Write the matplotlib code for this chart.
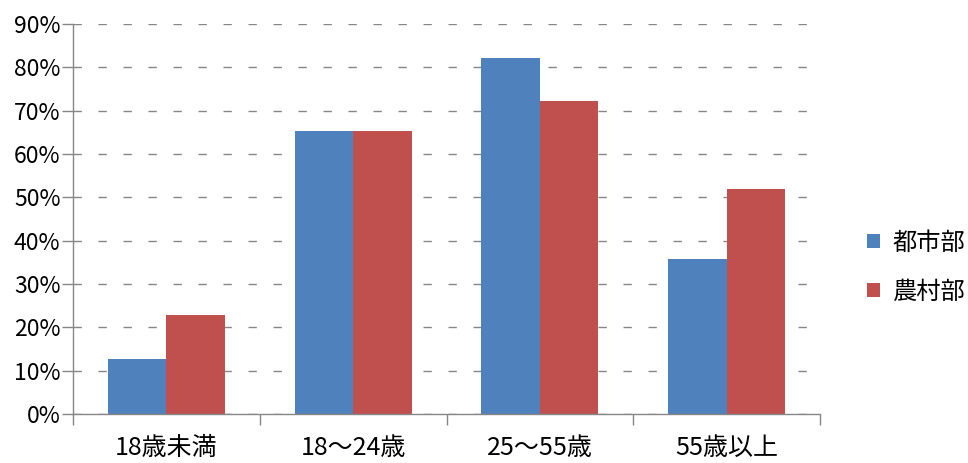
import numpy as np
import matplotlib.pyplot as plt
from matplotlib.ticker import FixedLocator, PercentFormatter

plt.rcParams['font.family'] = ['Noto Sans CJK JP', 'DejaVu Sans']

categories = ["18歳未満", "18～24歳", "25～55歳", "55歳以上"]
urban = [12.7, 65.2, 82.2, 35.8]
rural = [22.9, 65.2, 72.3, 52.0]
series_names = ["都市部", "農村部"]
colors = ["#4F81BD", "#C0504D"]

fig = plt.figure(figsize=(9.68, 4.63), dpi=100)
ax = fig.add_axes([73 / 968, 49 / 463, (820 - 73) / 968, (414 - 24) / 463])

x = np.arange(len(categories))
w = 0.313
ax.bar(x - w / 2, urban, w, color=colors[0], label=series_names[0], zorder=3)
ax.bar(x + w / 2, rural, w, color=colors[1], label=series_names[1], zorder=3)

ax.set_xlim(-0.5, len(categories) - 0.5)
ax.set_ylim(0, 90)
ax.set_yticks(np.arange(0, 91, 10))
ax.yaxis.set_major_formatter(PercentFormatter(decimals=0))
ax.set_xticks(x)
ax.set_xticklabels(categories)
ax.xaxis.set_minor_locator(FixedLocator(np.arange(-0.5, len(categories), 1)))
ax.tick_params(axis='x', which='major', length=0, pad=15, labelsize=18)
ax.tick_params(axis='x', which='minor', length=8, color='#868686', width=1)
ax.tick_params(axis='y', length=8, color='#868686', width=1, labelsize=16.5, pad=1)

ax.grid(axis='y', color='#868686', linestyle=(0, (6, 12)), linewidth=1, zorder=0)
for s in ['top', 'right']:
    ax.spines[s].set_visible(False)
for s in ['left', 'bottom']:
    ax.spines[s].set_color('#868686')
    ax.spines[s].set_linewidth(1)
    ax.spines[s].set_zorder(4)

leg = ax.legend(loc='center left', bbox_to_anchor=(1.05, 0.377), frameon=False,
                fontsize=17.5, handlelength=0.55, handleheight=0.55,
                handletextpad=0.5, labelspacing=0.95, borderaxespad=0)

fig.savefig("out.png", dpi=100)
